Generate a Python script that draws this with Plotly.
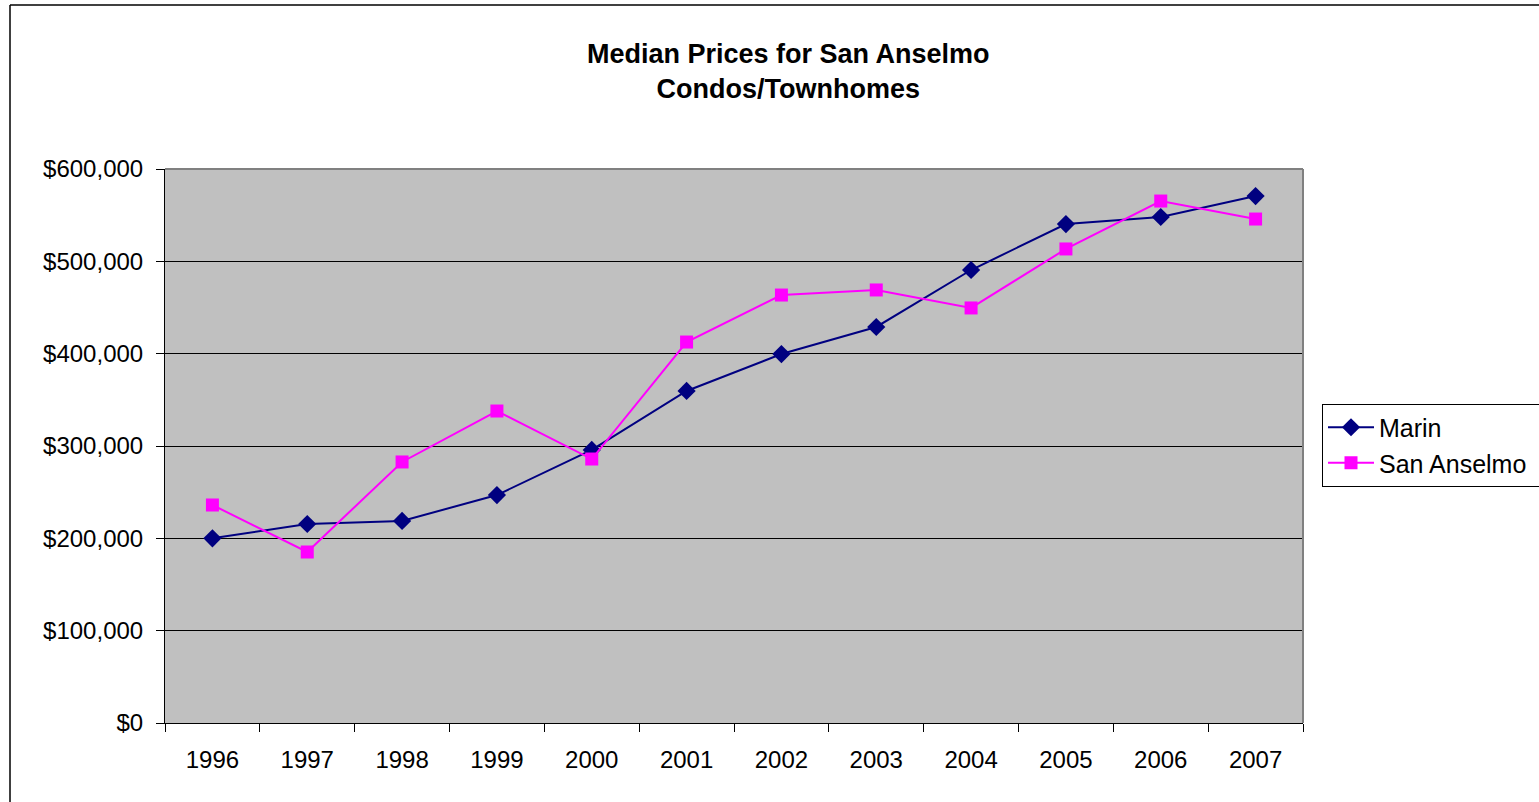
import plotly.graph_objects as go

years = ["1996", "1997", "1998", "1999", "2000", "2001", "2002", "2003", "2004", "2005", "2006", "2007"]
marin = [200000, 215500, 218800, 246900, 295700, 359600, 399600, 428900, 490600, 540400, 548000, 570700]
san_anselmo = [236100, 185200, 282700, 337900, 285900, 412600, 463500, 469000, 449500, 513400, 565300, 545800]
y_ticks = [0, 100000, 200000, 300000, 400000, 500000, 600000]
y_tick_labels = ["$0", "$100,000", "$200,000", "$300,000", "$400,000", "$500,000", "$600,000"]

FONT = "Liberation Sans, Arial, sans-serif"

fig = go.Figure()
fig.add_trace(go.Scatter(
    x=years, y=marin, name="Marin", mode="lines+markers",
    line=dict(color="#000080", width=2),
    marker=dict(symbol="diamond", size=14, color="#000080"),
))
fig.add_trace(go.Scatter(
    x=years, y=san_anselmo, name="San Anselmo\u00a0\u00a0", mode="lines+markers",
    line=dict(color="#FF00FF", width=2),
    marker=dict(symbol="square", size=13, color="#FF00FF"),
))

L, R, T, B = 165, 236, 169, 79
W, H = 1539, 802
pw, ph = W - L - R, H - T - B

def px_x(x):
    return (x - L) / pw

def px_y(y):
    return (H - B - y) / ph

fig.update_layout(
    width=W, height=H,
    margin=dict(l=L, r=R, t=T, b=B, pad=0, autoexpand=False),
    paper_bgcolor="white",
    plot_bgcolor="#C0C0C0",
    font=dict(family=FONT, size=24, color="black"),
    showlegend=True,
    legend=dict(
        x=px_x(1322), xanchor="left",
        y=px_y(445), yanchor="middle",
        bordercolor="black", borderwidth=1,
        bgcolor="white",
        font=dict(family=FONT, size=25, color="black"),
        tracegroupgap=0,
        itemwidth=46,
    ),
    xaxis=dict(
        type="category",
        range=[-0.5, 11.5],
        showgrid=False,
        zeroline=False,
        showline=True, linecolor="black", linewidth=1,
        ticks="outside", tickson="boundaries", ticklen=8, tickcolor="black",
        tickfont=dict(family=FONT, size=24, color="black"),
        ticklabelstandoff=15,
    ),
    yaxis=dict(
        range=[0, 600000],
        tickvals=y_ticks, ticktext=y_tick_labels,
        showgrid=True, gridcolor="black", gridwidth=1,
        zeroline=False,
        showline=True, linecolor="black", linewidth=1,
        ticks="outside", ticklen=8, tickcolor="black",
        tickfont=dict(family=FONT, size=24, color="black"),
        ticklabelstandoff=8,
    ),
    shapes=[
        # grey plot-area border (top and right)
        dict(type="line", xref="paper", yref="paper", x0=0, x1=1, y0=1, y1=1,
             line=dict(color="#808080", width=2), layer="above"),
        dict(type="line", xref="paper", yref="paper", x0=1, x1=1, y0=0, y1=1,
             line=dict(color="#808080", width=2), layer="above"),
        # outer chart frame
        dict(type="line", xref="paper", yref="paper", x0=px_x(10), x1=px_x(1545),
             y0=px_y(5), y1=px_y(5), line=dict(color="black", width=1.5)),
        dict(type="line", xref="paper", yref="paper", x0=px_x(10), x1=px_x(10),
             y0=px_y(5), y1=px_y(810), line=dict(color="black", width=1.5)),
    ],
    annotations=[
        dict(
            text="<b>Median Prices for San Anselmo<br>Condos/Townhomes</b>",
            xref="paper", yref="paper",
            x=px_x(788), y=px_y(72), xanchor="center", yanchor="middle",
            showarrow=False, align="center",
            font=dict(family=FONT, size=27, color="black"),
        ),
    ],
)

fig.write_html(
    "out.html",
    config={"displayModeBar": False},
    post_script="document.body.style.margin='0';document.body.style.overflow='hidden';",
)
